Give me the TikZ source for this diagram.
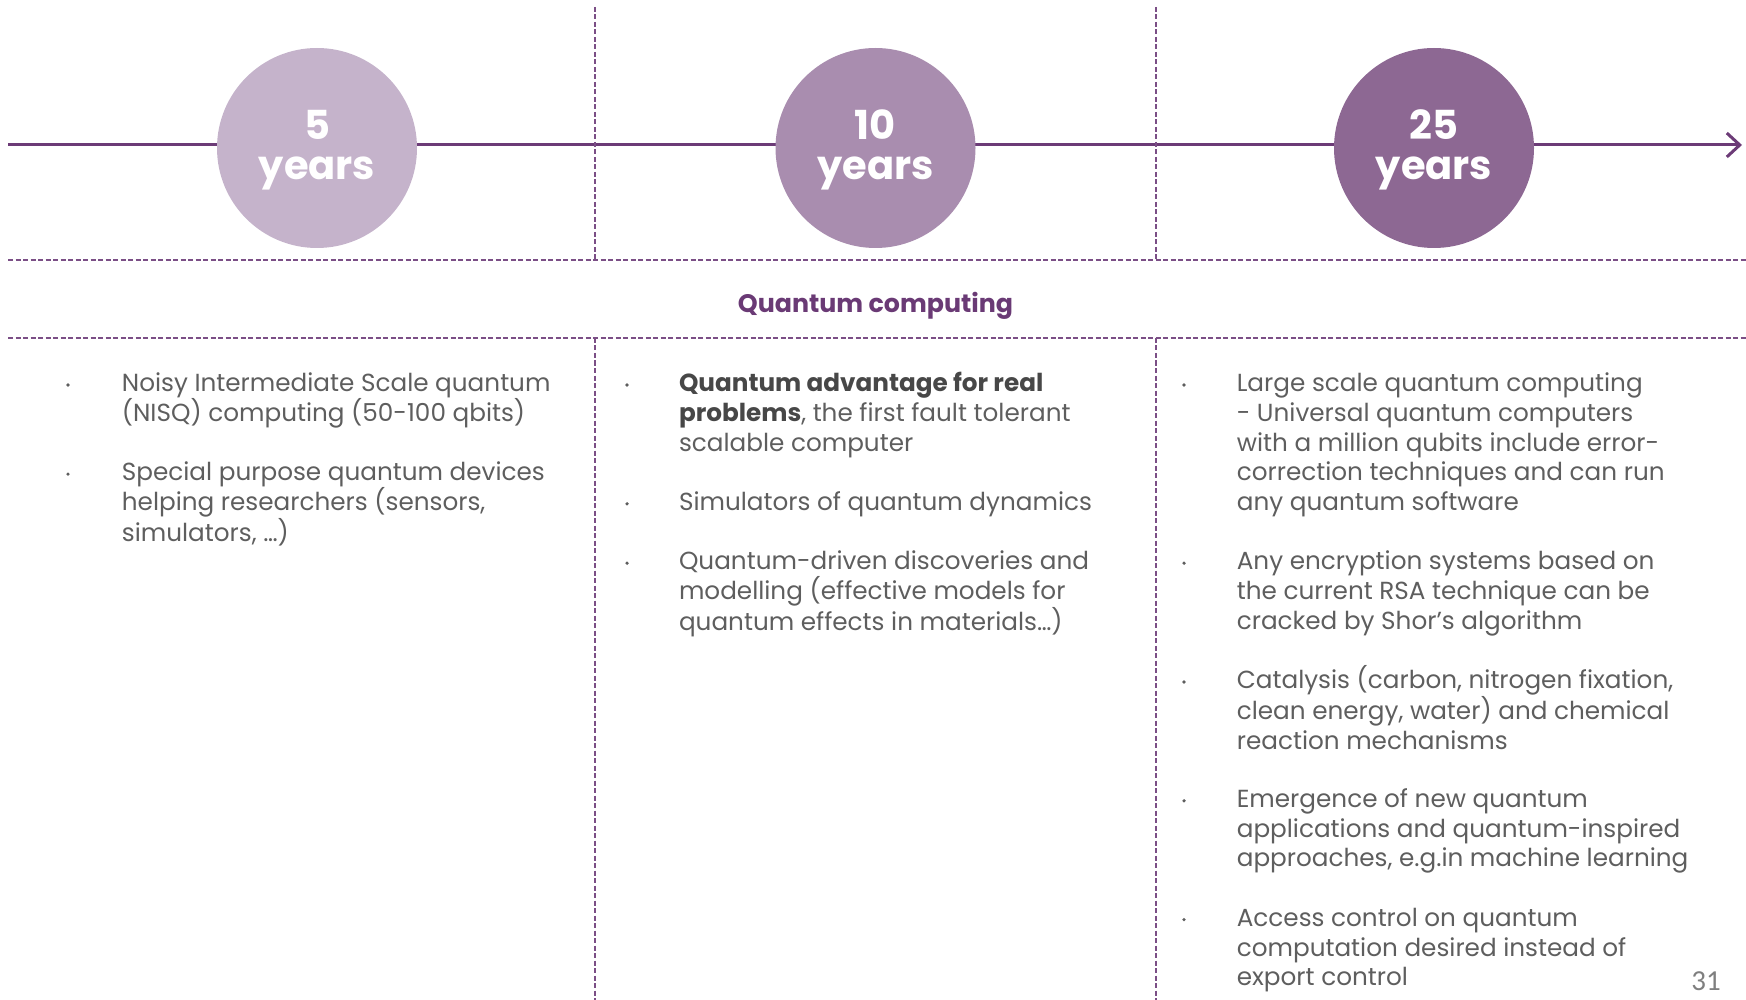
\documentclass[tikz,border=0pt]{standalone}
\usepackage{fontspec}
\setmainfont{Poppins}
\newfontfamily\pagefont{Carlito}
\usetikzlibrary{arrows.meta}
\definecolor{lineP}{HTML}{6C3B77}
\definecolor{dashP}{HTML}{7B4F86}
\definecolor{circA}{HTML}{C5B3CB}
\definecolor{circB}{HTML}{A98DAF}
\definecolor{circC}{HTML}{8D6893}
\definecolor{bodyG}{HTML}{5E5E5E}
\definecolor{boldG}{HTML}{474747}
\definecolor{pageG}{HTML}{7F7F7F}
\definecolor{titleP}{HTML}{6A3A75}
\newcommand\ptxt[1]{\parbox[t]{505pt}{\raggedright\leavevmode #1}}
\begin{document}
\begin{tikzpicture}[x=1pt,y=-1pt,
  yearcirc/.style={circle, minimum size=200pt, inner sep=0pt, draw=none},
  yeartext/.style={anchor=base, inner sep=0pt, text=white, font=\fontsize{40}{39.5}\selectfont\bfseries},
  divider/.style={dashP, line width=1.2pt, dash pattern=on 5pt off 2.5pt},
  para/.style={anchor=base west, inner sep=0pt, text=bodyG, font=\fontsize{24.7}{29.7}\selectfont},
  bul/.style={circle, fill=bodyG, inner sep=0pt, minimum size=3.6pt},
  timeline/.style={lineP, line width=3pt, -{Straight Barb[length=13pt,width=24pt]}},
]
\useasboundingbox (0,0) rectangle (1746,1000);
% timeline
\coordinate (tlS) at (8,145);
\coordinate (tlE) at (1742,145);
\draw[timeline] (tlS) -- (tlE);
% dashed grid
\coordinate (hAL) at (8,260);
\coordinate (hAR) at (1746,260);
\coordinate (hBL) at (8,338);
\coordinate (hBR) at (1746,338);
\draw[divider] (hAL) -- (hAR);
\draw[divider] (hBL) -- (hBR);
\coordinate (vAT) at (595,7);
\coordinate (vAM) at (595,260);
\coordinate (vAB) at (595,338);
\coordinate (vAE) at (595,1000);
\coordinate (vBT) at (1156,7);
\coordinate (vBM) at (1156,260);
\coordinate (vBB) at (1156,338);
\coordinate (vBE) at (1156,1000);
\draw[divider] (vAT) -- (vAM);
\draw[divider] (vAB) -- (vAE);
\draw[divider] (vBT) -- (vBM);
\draw[divider] (vBB) -- (vBE);
% circles
\node[yearcirc, fill=circA] (cA) at (317,148) {};
\node[yearcirc, fill=circB] (cB) at (875.5,148) {};
\node[yearcirc, fill=circC] (cC) at (1434,148) {};
\node[yeartext] (tA) at (317,140) {\parbox[t]{200pt}{\centering 5\\years}};
\node[yeartext] (tB) at (875.5,140) {\parbox[t]{200pt}{\centering 10\\years}};
\node[yeartext] (tC) at (1434,140) {\parbox[t]{200pt}{\centering 25\\years}};
% band title
\node[anchor=base, inner sep=0pt, text=titleP, font=\fontsize{25.3}{28}\selectfont\bfseries] (qc) at (875.5,313) {Quantum computing};
% column 1
\node[bul] (bA1) at (68,385) {};
\node[para] (pA1) at (121.7,391.7) {\ptxt{Noisy Intermediate Scale quantum\\(NISQ) computing (50-100 qbits)}};
\node[bul] (bA2) at (68,474.1) {};
\node[para] (pA2) at (121.7,480.8) {\ptxt{Special purpose quantum devices\\helping researchers (sensors,\\simulators, …)}};
% column 2
\node[bul] (bB1) at (627,385) {};
\node[para] (pB1) at (678.8,391.7) {\ptxt{\textcolor{boldG}{\textbf{Quantum advantage for real}}\\\textcolor{boldG}{\textbf{problems}}, the first fault tolerant\\scalable computer}};
\node[bul] (bB2) at (627,503.8) {};
\node[para] (pB2) at (678.8,510.5) {\ptxt{Simulators of quantum dynamics}};
\node[bul] (bB3) at (627,563.2) {};
\node[para] (pB3) at (678.8,569.9) {\ptxt{Quantum-driven discoveries and\\modelling (effective models for\\quantum effects in materials…)}};
% column 3
\node[bul] (bC1) at (1184,385) {};
\node[para] (pC1) at (1236.6,391.7) {\ptxt{Large scale quantum computing\\- Universal quantum computers\\with a million qubits include error-\\correction techniques and can run\\any quantum software}};
\node[bul] (bC2) at (1184,563.2) {};
\node[para] (pC2) at (1236.6,569.9) {\ptxt{Any encryption systems based on\\the current RSA technique can be\\cracked by Shor’s algorithm}};
\node[bul] (bC3) at (1184,682) {};
\node[para] (pC3) at (1236.6,688.7) {\ptxt{Catalysis (carbon, nitrogen fixation,\\clean energy, water) and chemical\\reaction mechanisms}};
\node[bul] (bC4) at (1184,800.8) {};
\node[para] (pC4) at (1236.6,807.5) {\ptxt{Emergence of new quantum\\applications and quantum-inspired\\approaches, e.g.in machine learning}};
\node[bul] (bC5) at (1184,919.6) {};
\node[para] (pC5) at (1236.6,926.3) {\ptxt{Access control on quantum\\computation desired instead of\\export control}};
% page number
\node[anchor=base east, inner sep=0pt, text=pageG, font=\pagefont\fontsize{29}{30}\selectfont] (pg) at (1721,990) {31};
\end{tikzpicture}
\end{document}
